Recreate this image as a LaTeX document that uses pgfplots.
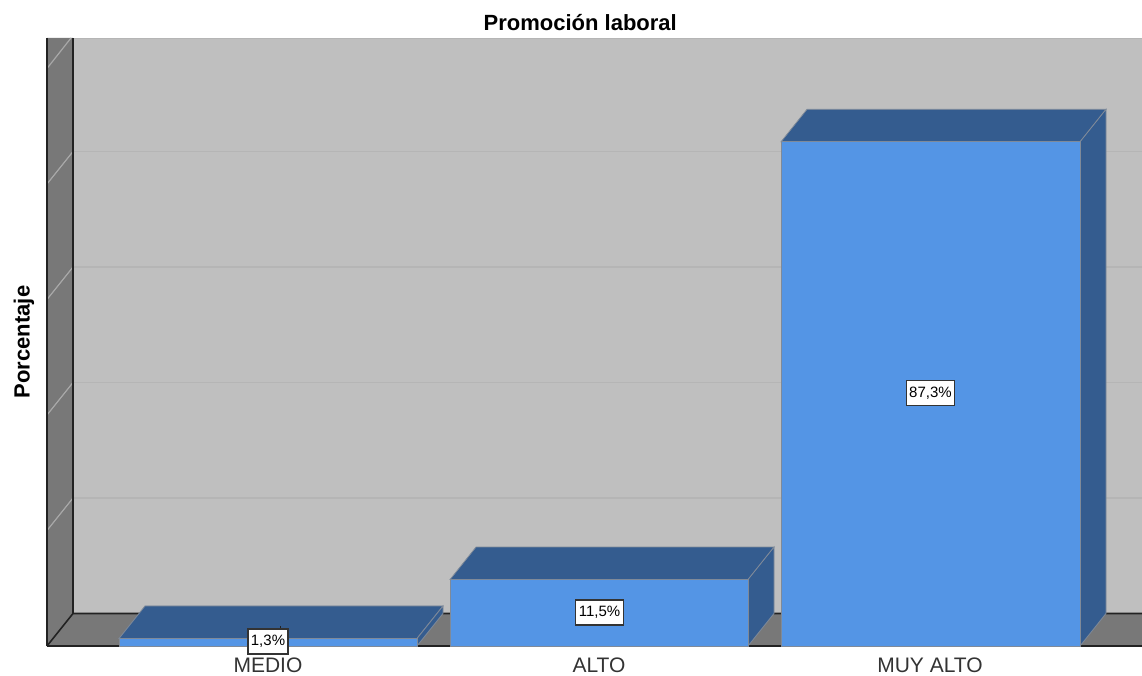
\documentclass[border=0pt]{standalone}
\usepackage{fontspec}
\setmainfont{Liberation Sans}
\usepackage{pgfplots}
\pgfplotsset{compat=1.18}
\definecolor{wall}{HTML}{BFBFBF}
\definecolor{side}{HTML}{787878}
\definecolor{gridc}{HTML}{B5B5B5}
\definecolor{gridl}{HTML}{A8A8A8}
\definecolor{front}{HTML}{5495E5}
\definecolor{dark}{HTML}{345C8F}
\definecolor{edge}{HTML}{7F8A99}
\definecolor{axisk}{HTML}{222222}
\definecolor{lab}{HTML}{333333}
\begin{document}
\begin{tikzpicture}[x=1pt,y=1pt]
\useasboundingbox (-47pt,-29pt) rectangle (1095pt,646pt);
\begin{axis}[
  at={(0pt,0pt)},anchor=south west,
  scale only axis,width=1095pt,height=608pt,
  xmin=47,xmax=1142,ymin=0,ymax=105.28,
  axis line style={draw=none},
  clip=false,
  xtick={268,599,930},
  xticklabels={MEDIO,ALTO,MUY ALTO},
  ytick=\empty,
  major tick length=0pt,
  xticklabel style={font=\fontsize{21}{24}\selectfont,text=lab,anchor=center,yshift=-19.5pt,inner sep=0pt},
  title={\bfseries Promoción laboral},
  title style={font=\fontsize{22}{26}\selectfont,at={(axis description cs:0.487,1.0247)},anchor=center,inner sep=0pt,yshift=-6pt},
  ylabel={\bfseries Porcentaje},
  ylabel style={font=\fontsize{22}{26}\selectfont,at={(axis description cs:-0.021,0.5)},anchor=center,inner sep=0pt},
]
% walls and floor
\addplot[fill=wall,draw=none] coordinates {(73,5.63)(1142,5.63)(1142,105.28)(73,105.28)} --cycle;
\addplot[fill=side,draw=none] coordinates {(47,0)(73,5.63)(73,105.28)(47,105.28)} --cycle;
\addplot[fill=side,draw=none] coordinates {(47,0)(73,5.63)(1142,5.63)(1142,0)} --cycle;
% grid
\addplot[gridc,line width=1.6pt] coordinates {(73,25.63)(1142,25.63)};
\addplot[gridc,line width=1.6pt] coordinates {(73,45.63)(1142,45.63)};
\addplot[gridc,line width=1.6pt] coordinates {(73,65.63)(1142,65.63)};
\addplot[gridc,line width=1.6pt] coordinates {(73,85.63)(1142,85.63)};
\addplot[gridc,line width=1.2pt] coordinates {(73,105.2)(1142,105.2)};
\addplot[gridl,line width=1.2pt] coordinates {(47,20)(73,25.63)};
\addplot[gridl,line width=1.2pt] coordinates {(47,40)(73,45.63)};
\addplot[gridl,line width=1.2pt] coordinates {(47,60)(73,65.63)};
\addplot[gridl,line width=1.2pt] coordinates {(47,80)(73,85.63)};
\addplot[gridl,line width=1.2pt] coordinates {(47,100)(71,105.28)};
% frame lines
\addplot[axisk,line width=1.2pt] coordinates {(47,0)(47,105.28)};
\addplot[axisk,line width=2.4pt] coordinates {(73,5.63)(73,105.28)};
\addplot[axisk,line width=1.6pt] coordinates {(47,0)(73,5.63)(1142,5.63)};
\addplot[axisk,line width=1.8pt] coordinates {(47,0)(1142,0)};
% MEDIO 1.3
\addplot[fill=dark,draw=edge,line width=0.8pt] coordinates {(119,1.3)(145,6.93)(443,6.93)(417,1.3)} --cycle;
\addplot[fill=dark,draw=edge,line width=0.8pt] coordinates {(417,0)(443,5.63)(443,6.93)(417,1.3)} --cycle;
\addplot[fill=front,draw=edge,line width=0.8pt] coordinates {(119,0)(119,1.3)(417,1.3)(417,0)} --cycle;
% ALTO 11.5
\addplot[fill=dark,draw=edge,line width=0.8pt] coordinates {(450,11.5)(476,17.13)(774,17.13)(748,11.5)} --cycle;
\addplot[fill=dark,draw=edge,line width=0.8pt] coordinates {(748,0)(774,5.63)(774,17.13)(748,11.5)} --cycle;
\addplot[fill=front,draw=edge,line width=0.8pt] coordinates {(450,0)(450,11.5)(748,11.5)(748,0)} --cycle;
% MUY ALTO 87.3
\addplot[fill=dark,draw=edge,line width=0.8pt] coordinates {(781,87.3)(807,92.93)(1106,92.93)(1080,87.3)} --cycle;
\addplot[fill=dark,draw=edge,line width=0.8pt] coordinates {(1080,0)(1106,5.63)(1106,92.93)(1080,87.3)} --cycle;
\addplot[fill=front,draw=edge,line width=0.8pt] coordinates {(781,0)(781,87.3)(1080,87.3)(1080,0)} --cycle;
% small mark and labels
\addplot[axisk,line width=0.9pt] coordinates {(280,2.7)(280,3.5)};
\tikzset{vlab/.style={fill=white,draw=lab,line width=1.2pt,font=\fontsize{15}{17}\selectfont,text=black,inner sep=0pt,minimum width=48pt,minimum height=25pt}}
\node[vlab,minimum width=40pt] at (axis cs:268,0.78) {1,3\%};
\node[vlab] at (axis cs:599.5,5.8) {11,5\%};
\node[vlab] at (axis cs:930.5,43.8) {87,3\%};
\end{axis}
\end{tikzpicture}
\end{document}
